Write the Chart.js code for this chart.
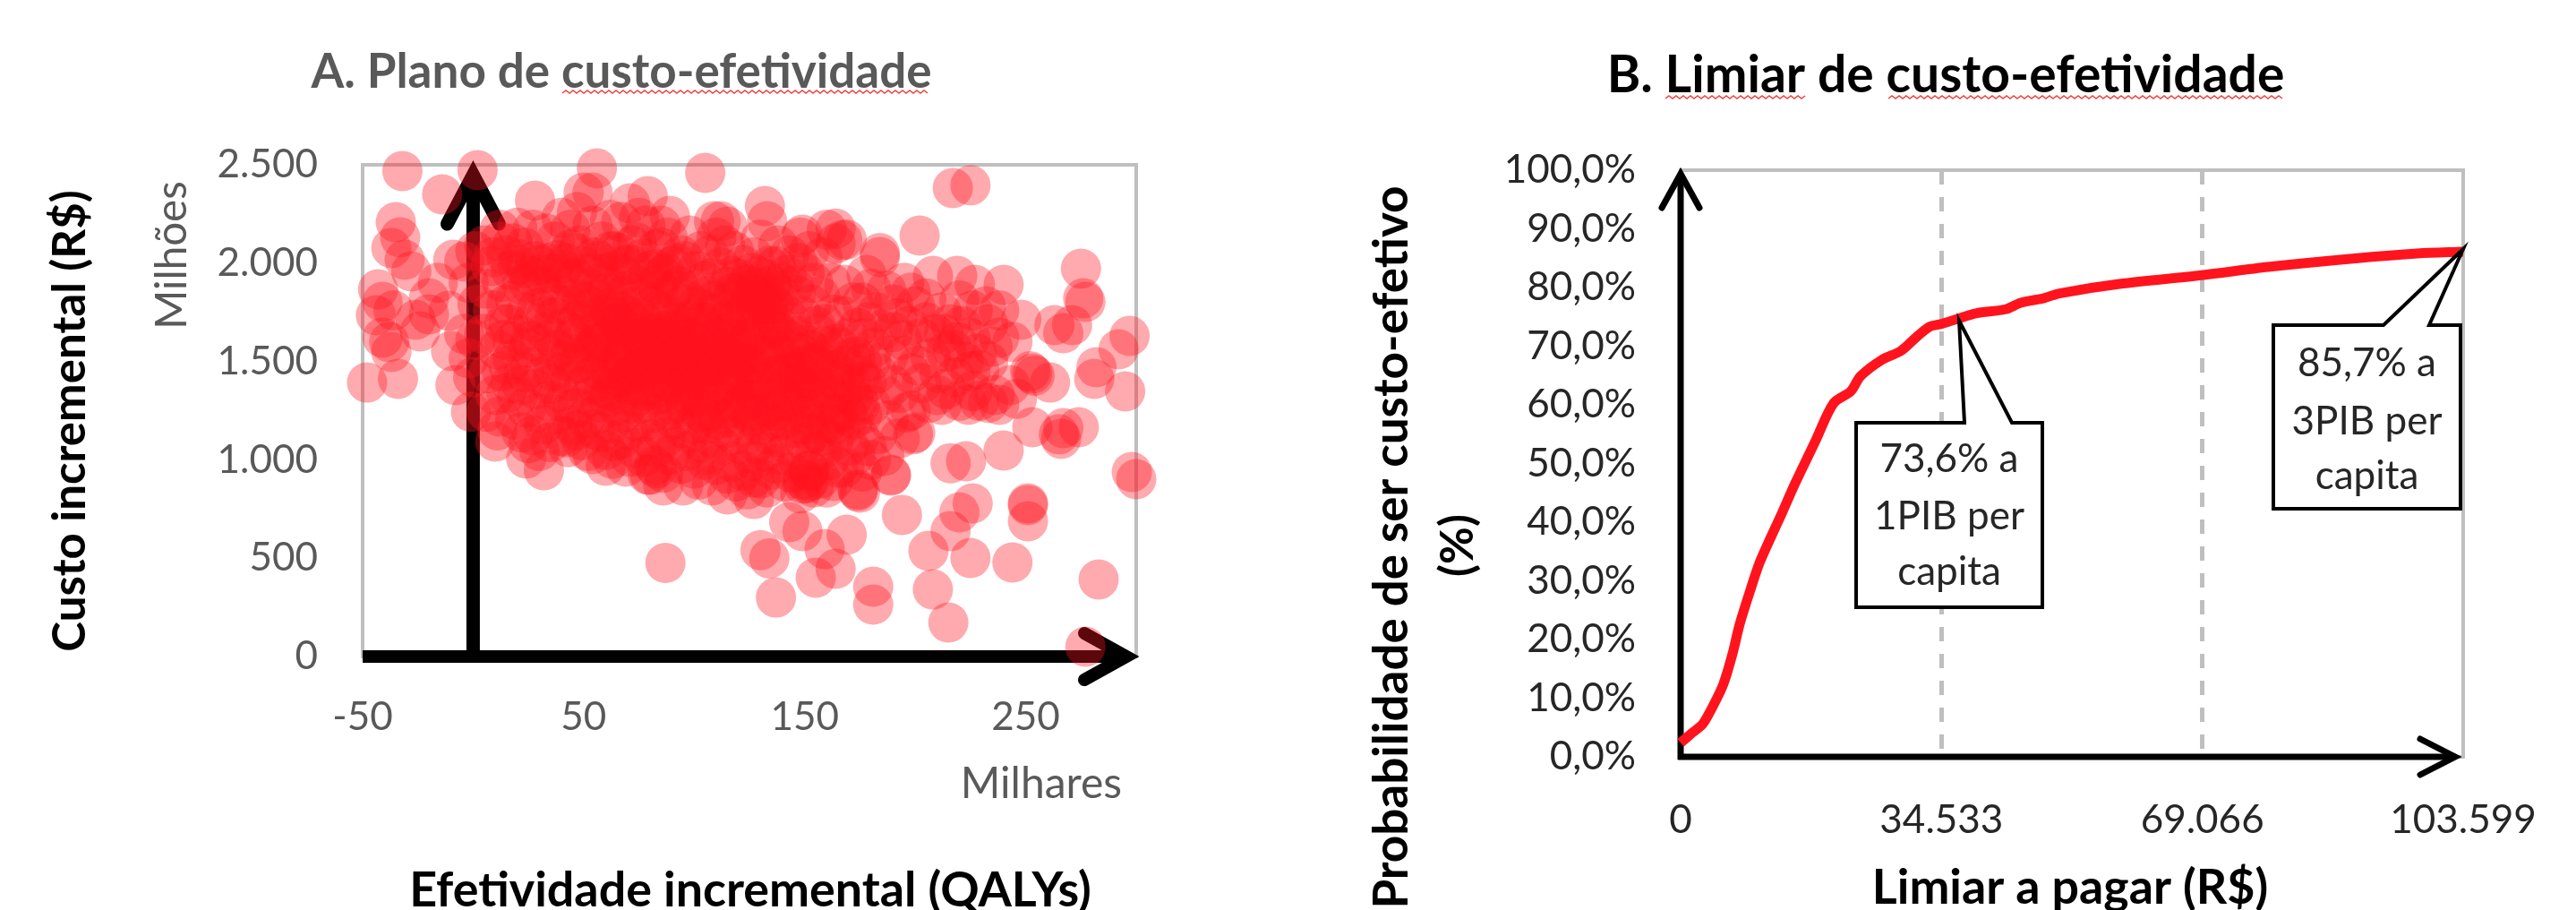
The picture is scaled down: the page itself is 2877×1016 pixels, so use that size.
<!DOCTYPE html>
<html>
<head>
<meta charset="utf-8">
<title>Custo-efetividade</title>
<script src="https://cdn.jsdelivr.net/npm/chart.js@4"></script>
<style>
  html, body { margin: 0; padding: 0; background: #fff; }
  body { position: relative; width: 2877px; height: 1016px; overflow: hidden; }
  canvas { position: absolute; top: 0; }
  #planoChart { left: 0; }
  #limiarChart { left: 1438px; }
</style>
</head>
<body>
<canvas id="planoChart" width="1438" height="1016"></canvas>
<canvas id="limiarChart" width="1439" height="1016"></canvas>
<script>
// === Dados: plano de custo-efetividade (QALYs, custo em milhoes) ===
const pontosEsquerda = [[-32,2468],[2,2473],[-14,2350],[-35,2208],[-33,2131],[-37,2077],[-31,2017],[-28,1958],[-43,1867],[-41,1803],[-44,1735],[-41,1621],[-37,1548],[-48,1393],[-34,1412],[-20,1821],[-26,1712],[-24,1653],[-8,1380],[-10,1553],[-2,1516],[-9,2017],[-4,2008],[-11,1758],[-1,1244],[-38,1599],[-36,1760],[-20,1740],[-16,1900],[-2,1900],[1,2060],[-4,1640],[0,1420],[2,1790],[1,1610]];
const pontosTopo = [[56,2482],[105,2459],[50,2359],[54,2359],[28,2318],[71,2304],[79,2341],[89,2240],[132,2290],[133,2213],[109,2213],[112,2213],[115,2186],[164,2175],[167,2117],[149,2145],[184,2031],[217,2382],[225,2396],[202,2140],[184,2051],[40,2230],[62,2220],[47,2260],[20,2180],[44,2170],[85,2190],[75,2230],[12,2170]];
const pontosNucleo1 = [[5,2090],[8,1985],[12,2110],[6,1870],[9,1760],[13,1905],[5,1640],[11,1560],[7,1440],[14,1690],[10,1330],[13,1450],[15,2040],[6,1245],[12,1220],[15,1790],[14,1610],[9,2030],[11,1150],[15,1340],
  [18,2100],[20,1990],[23,2080],[17,1965],[22,1890],[19,1815],[24,1750],[16,1690],[21,1635],[25,1570],[18,1510],[23,1445],[17,1390],[20,1320],[24,1265],[19,1205],[22,1140],[25,1900],[16,1480],[21,2020],[24,1975],[18,1600],[22,1380],[25,1085],
  [27,2170],[30,1990],[33,2150],[28,2010],[34,2000],[26,1935],[31,1880],[35,1820],[29,1770],[27,1700],[33,1650],[30,1585],[35,1530],[26,1470],[31,1420],[28,1360],[34,1300],[29,1240],[32,1180],[27,1125],[35,1090],[31,1945],[33,1730],[26,1605],[35,1385],[30,1045],
  [37,2110],[40,1970],[44,2070],[38,2015],[42,2000],[36,1950],[45,1895],[39,1840],[43,1785],[37,1725],[41,1670],[45,1615],[38,1560],[42,1505],[36,1450],[44,1400],[39,1345],[41,1290],[37,1230],[45,1175],[40,1120],[43,1065],[38,1790],[44,1540],[36,1620],[42,1930],[40,1440],[45,1260],
  [48,2090],[52,1950],[47,2050],[54,2190],[50,1985],[55,2030],[46,1925],[53,1870],[49,1815],[51,1760],[47,1705],[55,1650],[48,1595],[52,1540],[46,1485],[54,1430],[50,1375],[53,1320],[47,1265],[51,1210],[55,1155],[49,1100],[52,1045],[54,1570],[46,1640],[50,1800],[48,1490],[53,1720],[55,1390],[47,1150]];
const pontosNucleo2 = [[58,2110],[62,2060],[60,1950],[64,2060],[57,2010],[63,1960],[59,1905],[65,1860],[56,1815],[61,1770],[64,1725],[58,1680],[62,1635],[56,1590],[60,1545],[65,1500],[57,1455],[63,1410],[59,1365],[61,1320],[65,1275],[56,1230],[62,1185],[58,1140],[64,1095],[60,1050],[63,1005],[57,1620],[65,1700],[59,1480],[61,1850],[63,1560],[58,1290],[62,1350],
  [67,2210],[72,2090],[69,1990],[74,2105],[66,2050],[71,1995],[68,1940],[75,1885],[67,1830],[73,1780],[70,1735],[66,1690],[74,1645],[69,1600],[72,1555],[67,1510],[75,1465],[70,1420],[73,1375],[66,1330],[71,1285],[68,1240],[74,1195],[70,1150],[67,1105],[73,1060],[71,1015],[69,965],[75,1590],[66,1760],[72,1440],[68,1670],[74,1320],[70,1860],
  [78,2190],[83,2070],[80,1960],[85,2080],[77,2025],[82,1970],[79,1920],[84,1870],[76,1825],[81,1780],[85,1735],[78,1690],[83,1645],[76,1600],[80,1555],[85,1510],[77,1465],[82,1420],[79,1375],[84,1330],[76,1285],[81,1240],[78,1195],[85,1150],[80,1105],[83,1060],[77,1015],[82,970],[79,925],[84,1620],[76,1720],[81,1480],[78,1350],[83,1890],
  [88,2130],[92,2000],[87,1950],[94,2040],[90,1985],[86,1935],[93,1885],[89,1835],[95,1790],[87,1745],[91,1700],[86,1655],[94,1610],[89,1565],[92,1520],[87,1475],[95,1430],[90,1385],[86,1340],[93,1295],[88,1250],[91,1205],[95,1160],[87,1115],[92,1070],[89,1025],[94,980],[86,935],[90,1660],[93,1460],[88,1590],[95,1320],[91,1860],[87,1400]];
const pontosNucleo3 = [[98,2140],[103,2060],[96,2010],[101,1960],[105,1910],[99,1860],[97,1810],[104,1765],[100,1720],[96,1675],[103,1630],[98,1585],[105,1540],[101,1495],[97,1450],[104,1405],[99,1360],[102,1315],[96,1270],[105,1225],[100,1180],[98,1135],[103,1090],[97,1045],[105,1000],[100,955],[102,900],[98,1700],[104,1500],[96,1560],[101,1780],[99,1410],[103,1240],[97,1620],
  [110,2130],[114,2090],[107,2040],[112,1980],[108,1925],[115,1880],[106,1835],[111,1790],[109,1745],[114,1700],[106,1655],[112,1610],[108,1565],[115,1520],[110,1475],[106,1430],[113,1385],[109,1340],[115,1295],[107,1250],[111,1205],[114,1160],[108,1115],[112,1070],[106,1025],[110,975],[115,930],[108,870],[113,1640],[107,1500],[111,1350],[109,1810],[114,1450],[106,1180],
  [118,2060],[122,1990],[117,1935],[124,1890],[120,1845],[116,1800],[123,1755],[119,1710],[125,1665],[117,1620],[121,1575],[116,1530],[124,1485],[119,1440],[122,1395],[117,1350],[125,1305],[120,1260],[116,1215],[123,1170],[118,1125],[121,1080],[125,1035],[117,990],[122,945],[119,890],[124,850],[120,1600],[118,1420],[123,1520],[116,1720],[125,1240],
  [130,2120],[127,2030],[134,1985],[129,1935],[135,1890],[126,1850],[131,1805],[133,1760],[128,1715],[135,1670],[126,1625],[132,1580],[129,1535],[134,1490],[127,1445],[131,1400],[135,1355],[128,1310],[133,1265],[126,1220],[130,1175],[134,1130],[128,1085],[132,1040],[127,995],[135,950],[130,905],[133,860],[129,1640],[126,1490],[131,1750],[134,1200]];
const pontosNucleo4 = [[138,2090],[143,2040],[137,1985],[142,1940],[145,1885],[139,1840],[136,1790],[141,1745],[144,1700],[138,1655],[143,1610],[136,1565],[140,1520],[145,1475],[137,1430],[142,1385],[139,1340],[144,1295],[136,1250],[141,1205],[145,1160],[138,1115],[143,1070],[140,1025],[137,980],[144,935],[141,890],[139,1580],[143,1440],[137,1700],
  [148,2130],[152,2060],[147,2000],[154,1900],[150,1950],[146,1840],[153,1790],[149,1730],[155,1680],[146,1630],[151,1585],[148,1540],[154,1495],[147,1450],[152,1405],[149,1360],[155,1315],[146,1270],[151,1225],[148,1180],[153,1135],[150,1090],[155,1040],[147,995],[152,945],[149,900],[154,860],[151,880],[148,830],[153,1560],[147,1380],[150,1260],
  [160,2170],[164,2100],[158,2030],[162,1900],[157,1830],[163,1740],[159,1690],[156,1640],[164,1590],[161,1545],[157,1500],[163,1455],[159,1410],[156,1365],[162,1320],[158,1275],[165,1230],[160,1185],[156,1140],[163,1095],[158,1050],[161,1000],[165,960],[157,905],[160,860],[164,1400],[159,1580],
  [169,2120],[168,1890],[172,1800],[167,1730],[174,1670],[170,1620],[166,1570],[173,1525],[168,1480],[175,1430],[171,1385],[167,1340],[174,1295],[169,1250],[172,1205],[166,1160],[175,1115],[170,1070],[173,1025],[168,960],[174,850],[171,1520],[175,1280],
  [178,1940],[180,1870],[176,1800],[183,1750],[187,1860],[179,1700],[190,1790],[185,1660],[177,1620],[192,1720],[181,1570],[188,1530],[176,1490],[194,1610],[183,1440],[178,1390],[190,1380],[186,1330],[180,1280],[176,1230],[188,1200],[183,1130],[193,1110],[178,1070],[186,1020],[180,1000],[176,940],[189,920],[196,1240],[199,1130],[197,1680]];
const pontosCentro = [[62,1750],[68,1560],[72,1700],[78,1480],[84,1760],[88,1520],[92,1650],[96,1400],[100,1600],[104,1700],[108,1470],[112,1560],[116,1660],[120,1500],[124,1600],[128,1400],[132,1520],[136,1680],[140,1440],[144,1560],
  [70,1380],[76,1620],[82,1360],[86,1460],[90,1280],[94,1540],[98,1320],[102,1440],[106,1300],[110,1620],[114,1260],[118,1380],[122,1280],[126,1360],[130,1240],[134,1320],[138,1200],[142,1300],[146,1400],[150,1480],
  [118,1850],[124,1780],[128,1880],[132,1920],[126,1950],[122,1860],[136,1860],[130,1830],[134,1790],[120,1920],[140,1900],[128,1790],
  [152,1300],[156,1480],[160,1360],[164,1240],[168,1420],[172,1320],[176,1400],[180,1500],[152,1180],[158,1120],[164,1180],[170,1220],[62,1460],[66,1420],[58,1600],[54,1780],[74,1500],[80,1640]];
const pontosDireita = [[208,1935],[219,1935],[227,1890],[240,1890],[275,1972],[276,1821],[277,1803],[297,1630],[292,1562],[282,1471],[281,1412],[295,1348],[253,1439],[252,1450],[254,1428],[261,1393],[263,1685],[267,1644],[271,1685],[248,1712],[233,1689],[238,1621],[235,1576],[229,1457],[200,1780],[205,1700],[209,1640],[203,1620],[212,1750],[216,1690],[207,1520],[214,1550],[201,1480],[219,1600],[211,1440],[222,1500],[218,1420],[226,1350],[229,1300],[233,1290],[236,1330],[224,1280],[238,1280],[220,1300],[200,1138],[216,983],[223,993],[240,1047],[253,1166],[266,1107],[267,1161],[274,1166],[265,1130],
  [190,1650],[195,1530],[198,1440],[193,1340],[203,1390],[206,1290],[210,1330],[198,1250],[205,1820],[198,1850],[195,1900],[213,1640],[217,1560],[221,1680],[225,1620],[228,1540],[225,1450],[233,1500],[214,1360],[220,1810],[226,1760],[232,1780],[238,1760],[244,1600],[243,1380],[246,1310],[212,1280]];
const pontosBaixo = [[298,938],[300,902],[251,779],[251,770],[251,688],[226,779],[220,733],[216,638],[206,537],[225,501],[244,478],[283,392],[277,50],[215,173],[208,341],[181,355],[181,264],[194,720],[169,619],[164,446],[155,401],[159,546],[149,638],[143,683],[137,300],[174,842],[189,924],[152,893],[149,879],[87,476],[130,541],[134,499],
  [10,1093],[24,1007],[32,947],[60,970],[54,1029],[42,1115],[80,924],[86,870],[95,870],[115,824],[127,801],[127,910],[83,956],[175,833],[163,893],[152,947]];

const qalyTicks = [-50, 50, 150, 250];
const qalyTickLabels = ['-50', '50', '150', '250'];
const custoTicks = [0, 500, 1000, 1500, 2000, 2500];
const custoTickLabels = ['0', '500', '1.000', '1.500', '2.000', '2.500'];

// === Dados: curva de aceitabilidade ===
const limiarValores = [0,1540,2930,4500,5690,6875,7820,9250,10430,11970,13400,14935,16120,17900,20270,22520,23830,26670,29160,31170,32950,34533,36750,39100,43030,45040,48120,50140,58080,68990,77760,89610,97550,103599];
const probValores = [2.4,4.1,5.6,9.2,12.5,17.6,22.6,28.5,33,37.5,41.5,46,49.2,54,60.3,62.3,64.9,67.7,69.2,71.5,73.3,73.8,74.7,75.6,76.3,77.4,78.2,79,80.6,82.1,83.5,85,85.8,86.1];
const limiarTicks = [0, 34533, 69066, 103599];
const limiarTickLabels = ['0', '34.533', '69.066', '103.599'];
const probTicks = [0, 10, 20, 30, 40, 50, 60, 70, 80, 90, 100];
const probTickLabels = ['0,0%', '10,0%', '20,0%', '30,0%', '40,0%', '50,0%', '60,0%', '70,0%', '80,0%', '90,0%', '100,0%'];

const FONT = 'Lato, "Open Sans", sans-serif';
const CINZA = '#595959';
const MOLDURA = '#bfbfbf';
const VERMELHO = '#ff141e';

// === Helpers de desenho ===
function escreve(ctx, texto, x, y, tam, cor, negrito, rot) {
  ctx.save();
  ctx.translate(x, y);
  if (rot) ctx.rotate(rot);
  ctx.font = (negrito ? 'bold ' : '') + tam + 'px ' + FONT;
  ctx.fillStyle = cor;
  ctx.textAlign = 'center';
  ctx.textBaseline = 'middle';
  ctx.fillText(texto, 0, 0);
  ctx.restore();
}

function ondulado(ctx, x1, x2, y) {
  ctx.save();
  ctx.strokeStyle = '#f04040';
  ctx.lineWidth = 1.5;
  ctx.beginPath();
  let up = true;
  ctx.moveTo(x1, y);
  for (let x = x1 + 4; x <= x2; x += 4) {
    ctx.lineTo(x, up ? y - 3 : y);
    up = !up;
  }
  ctx.stroke();
  ctx.restore();
}

function seta(ctx, x1, y1, x2, y2, bx1, by1, bx2, by2, largura) {
  ctx.save();
  ctx.strokeStyle = '#000';
  ctx.lineWidth = largura;
  ctx.lineCap = 'butt';
  ctx.beginPath();
  ctx.moveTo(x1, y1);
  ctx.lineTo(x2, y2);
  ctx.stroke();
  ctx.lineCap = 'round';
  ctx.lineJoin = 'miter';
  ctx.beginPath();
  ctx.moveTo(bx1, by1);
  ctx.lineTo(x2, y2);
  ctx.lineTo(bx2, by2);
  ctx.stroke();
  ctx.restore();
}

function balao(ctx, esq, dir, topo, base, pontaX, pontaY, caudaA, caudaB, linhas, yLinhas) {
  ctx.save();
  ctx.fillStyle = '#fff';
  ctx.strokeStyle = '#000';
  ctx.lineWidth = 4;
  ctx.lineJoin = 'miter';
  ctx.beginPath();
  ctx.moveTo(esq, topo);
  ctx.lineTo(caudaA, topo);
  ctx.lineTo(pontaX, pontaY);
  ctx.lineTo(caudaB, topo);
  ctx.lineTo(dir, topo);
  ctx.lineTo(dir, base);
  ctx.lineTo(esq, base);
  ctx.closePath();
  ctx.fill();
  ctx.stroke();
  linhas.forEach((t, i) => escreve(ctx, t, (esq + dir) / 2, yLinhas[i], 44, '#262626', false));
  ctx.restore();
}

function moldura(chart) {
  const { ctx, chartArea: a } = chart;
  ctx.save();
  ctx.strokeStyle = MOLDURA;
  ctx.lineWidth = 4;
  ctx.strokeRect(a.left, a.top, a.right - a.left, a.bottom - a.top);
  ctx.restore();
}

// Escala com largura e altura fixas, para o plot ficar no lugar certo
function eixoFixo(ticks, labels, tamanho, cor, pad) {
  return {
    type: 'linear',
    grid: { display: false, drawTicks: false },
    border: { display: false },
    afterBuildTicks: s => { s.ticks = ticks.map(v => ({ value: v })); },
    afterFit: s => {
      if (s.axis === 'x') s.height = tamanho; else s.width = tamanho;
    },
    ticks: {
      color: cor,
      padding: pad,
      maxRotation: 0,
      autoSkip: false,
      font: { family: FONT, size: 44 },
      callback: (v, i) => labels[i]
    }
  };
}

// === A. Plano de custo-efetividade ===
const extrasPlano = {
  id: 'extrasPlano',
  beforeDatasetsDraw(chart) {
    const { ctx, scales } = chart;
    moldura(chart);
    const x0 = scales.x.getPixelForValue(0);
    const y0 = scales.y.getPixelForValue(0);
    seta(ctx, scales.x.left, y0, scales.x.right - 11, y0, 1211, 707, 1211, 759, 14);
    seta(ctx, x0, y0 + 7, x0, scales.y.top + 11, x0 - 29, 250, x0 + 29, 250, 15);
  },
  afterDraw(chart) {
    const ctx = chart.ctx;
    escreve(ctx, 'A. Plano de custo-efetividade', 694, 81, 53, CINZA, true);
    ondulado(ctx, 628, 1038, 104);
    escreve(ctx, 'Custo incremental (R$)', 79, 470, 51, '#000', true, -Math.PI / 2);
    escreve(ctx, 'Milhões', 193, 285, 47.5, CINZA, false, -Math.PI / 2);
    escreve(ctx, 'Milhares', 1163, 876, 48, CINZA, false);
    escreve(ctx, 'Efetividade incremental (QALYs)', 838, 995, 53.8, '#000', true);
  }
};

new Chart(document.getElementById('planoChart'), {
  type: 'scatter',
  data: {
    datasets: [{
      data: [...pontosEsquerda, ...pontosTopo, ...pontosNucleo1, ...pontosNucleo2, ...pontosNucleo3, ...pontosNucleo4, ...pontosCentro, ...pontosDireita, ...pontosBaixo].map(p => ({ x: p[0], y: p[1] })),
      backgroundColor: 'rgba(255,20,30,0.36)',
      borderWidth: 0,
      pointRadius: 22.5,
      clip: false
    }]
  },
  options: {
    responsive: false,
    animation: false,
    layout: { padding: { left: 0, top: 184, right: 1438 - 1269, bottom: 0 } },
    plugins: { legend: { display: false }, tooltip: { enabled: false } },
    scales: {
      x: { ...eixoFixo(qalyTicks, qalyTickLabels, 1016 - 733, CINZA, 41), min: -50, max: 300 },
      y: { ...eixoFixo(custoTicks, custoTickLabels, 405, CINZA, 50), min: 0, max: 2500 }
    }
  },
  plugins: [extrasPlano]
});

// === B. Limiar de custo-efetividade ===
const OFF = 1438;
const extrasLimiar = {
  id: 'extrasLimiar',
  beforeDatasetsDraw(chart) {
    const ctx = chart.ctx;
    moldura(chart);
    ctx.save();
    ctx.translate(-OFF, 0);
    seta(ctx, 1877, 848, 1877, 194, 1856, 232, 1898, 232, 7);
    seta(ctx, 1874, 845, 2742, 845, 2703, 825, 2703, 865, 7);
    ctx.restore();
  },
  afterDraw(chart) {
    const ctx = chart.ctx;
    ctx.save();
    ctx.translate(-OFF, 0);
    balao(ctx, 2073, 2281, 472, 678, 2188, 358, 2194, 2247, ['73,6% a', '1PIB per', 'capita'], [513, 577, 639]);
    balao(ctx, 2539, 2748, 363, 568, 2751, 278, 2662, 2713, ['85,7% a', '3PIB per', 'capita'], [406, 471, 532]);
    escreve(ctx, 'B. Limiar de custo-efetividade', 2173, 85, 57, '#000', true);
    ondulado(ctx, 1860, 2018, 110);
    ondulado(ctx, 2109, 2551, 110);
    escreve(ctx, 'Probabilidade de ser custo-efetivo', 1555, 611, 53, '#000', true, -Math.PI / 2);
    escreve(ctx, '(%)', 1629, 609, 51, '#000', true, -Math.PI / 2);
    escreve(ctx, 'Limiar a pagar (R$)', 2312, 992, 53.7, '#000', true);
    ctx.restore();
  }
};

const eixoXLimiar = eixoFixo(limiarTicks, limiarTickLabels, 1016 - 845, '#262626', 44);
eixoXLimiar.grid = {
  display: true,
  drawTicks: false,
  lineWidth: 5,
  color: c => (c.tick && c.tick.value > 0 && c.tick.value < 103599) ? MOLDURA : 'rgba(0,0,0,0)'
};
eixoXLimiar.border = { display: false, dash: [16, 14] };

new Chart(document.getElementById('limiarChart'), {
  type: 'line',
  data: {
    datasets: [{
      data: limiarValores.map((v, i) => ({ x: v, y: probValores[i] })),
      borderColor: VERMELHO,
      borderWidth: 11,
      pointRadius: 0,
      tension: 0.3,
      fill: false,
      clip: false
    }]
  },
  options: {
    responsive: false,
    animation: false,
    layout: { padding: { left: 0, top: 190, right: 1439 - (2751 - OFF), bottom: 0 } },
    plugins: { legend: { display: false }, tooltip: { enabled: false } },
    scales: {
      x: { ...eixoXLimiar, min: 0, max: 103599 },
      y: { ...eixoFixo(probTicks, probTickLabels, 1877 - OFF, '#262626', 50), min: 0, max: 100 }
    }
  },
  plugins: [extrasLimiar]
});
</script>
</body>
</html>
